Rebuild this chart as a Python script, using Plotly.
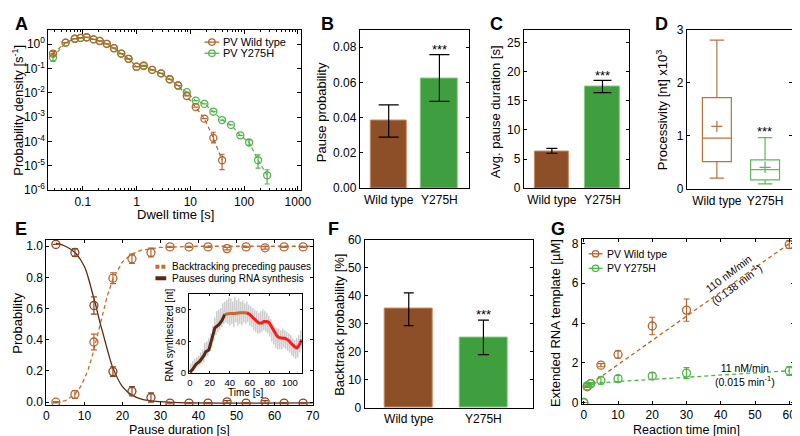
import plotly.graph_objects as go

W, H = 800, 436
def X(px): return px / W
def Y(py): return 1 - py / H

FONT = "Liberation Sans, Arial, Helvetica, sans-serif"

# ---------------- data ----------------
# A: dwell time distributions
A_x_wt = [0.028, 0.048, 0.071, 0.091, 0.118, 0.159, 0.207, 0.279, 0.38, 0.52, 0.71, 1.0, 1.36, 1.95,
          2.86, 4.13, 5.94, 8.6, 12.6, 18.3, 26.8, 39]
A_y_wt = [0.41, 1.15, 1.66, 1.8, 1.92, 1.56, 1.35, 1.03, 0.68, 0.41, 0.25, 0.118, 0.133, 0.087,
          0.063, 0.036, 0.02, 0.0074, 0.0026, 0.00087, 1.4e-4, 1.7e-5]
A_up_wt = [0.09] + [0] * 19 + [1.0e-4, 1.3e-5]
A_dn_wt = [0.06] + [0] * 19 + [5.3e-5, 1.0e-5]
A_x_mut = [0.028, 0.048, 0.071, 0.091, 0.118, 0.159, 0.207, 0.279, 0.38, 0.52, 0.71, 1.0, 1.36, 1.95,
           2.86, 4.13, 5.94, 8.6, 12.6, 18.3, 26.8, 39, 57, 85, 124, 182, 268]
A_y_mut = [0.28, 1.15, 1.66, 1.8, 1.92, 1.56, 1.35, 1.03, 0.68, 0.41, 0.25, 0.118, 0.125, 0.087,
           0.063, 0.036, 0.02, 0.0106, 0.0048, 0.0035, 0.0017, 7.6e-4, 4.8e-4, 1.8e-4, 9.1e-5, 1.7e-5, 4.1e-6]
A_up_mut = [0.13] + [0] * 23 + [2.5e-5, 1.1e-5, 2.8e-6]
A_dn_mut = [0.085] + [0] * 23 + [2.0e-5, 9e-6, 2.3e-6]

groups = ["Wild type", "Y275H"]
# B: pause probability
B_val = [0.0382, 0.0623]
B_hi = [0.0473, 0.0758]
B_lo = [0.029, 0.0493]
# C: average pause duration
C_val = [6.34, 17.4]
C_hi = [6.84, 18.5]
C_lo = [6.0, 16.4]
# D: processivity box plot (x10^3 nt)
D_low = [0.21, 0.10]
D_q1 = [0.52, 0.177]
D_med = [0.96, 0.37]
D_q3 = [1.72, 0.55]
D_high = [2.80, 0.97]
D_mean = [1.18, 0.41]
# E: probabilities vs pause duration
E_x = [2.5, 7.5, 12.5, 17.5, 22.5, 27.5, 32.5, 37.5, 42.5, 47.5, 52.5, 57.5, 62.5, 67.5]
E_syn = [1.012, 0.96, 0.62, 0.196, 0.07, 0.03, -0.006, -0.006, -0.006, 0.002, -0.006, 0.002, -0.006, -0.006]
E_syn_err = [0.0, 0.025, 0.055, 0.03, 0.03, 0.03, 0.004, 0.004, 0.004, 0.008, 0.004, 0.008, 0.004, 0.004]
E_bt = [0.0, 0.05, 0.386, 0.795, 0.92, 0.96, 0.996, 0.996, 0.996, 0.985, 0.996, 0.99, 0.996, 0.996]
E_bt_err = [0.004, 0.025, 0.05, 0.035, 0.03, 0.028, 0.004, 0.004, 0.004, 0.008, 0.004, 0.008, 0.004, 0.004]
E_fit_syn_x = [2.5, 5, 7.5, 10, 11, 12, 13, 14, 15, 16, 17.5, 20, 22.5, 25, 30, 35, 70]
E_fit_syn_y = [1.02, 1.0, 0.96, 0.87, 0.8, 0.71, 0.62, 0.52, 0.43, 0.34, 0.22, 0.1, 0.045, 0.02, 0.003, -0.003, -0.005]
E_fit_bt_x = [2.5, 5, 7.5, 9, 10, 11, 12, 13, 14, 15, 16, 17.5, 20, 22.5, 25, 30, 40, 70]
E_fit_bt_y = [0.0, 0.01, 0.05, 0.1, 0.15, 0.21, 0.29, 0.39, 0.49, 0.59, 0.68, 0.79, 0.9, 0.95, 0.975, 0.993, 1.0, 1.0]
# E inset: RNA synthesized trace
inset_t = list(range(0, 113))
inset_raw = [2, 12, 0, 15, 3, 18, 6, 20, 8, 22,
             10, 26, 12, 30, 14, 38, 20, 40, 22, 44,
             28, 50, 32, 60, 40, 70, 48, 78, 52, 80,
             55, 82, 58, 88, 62, 90, 64, 92, 62, 95,
             60, 94, 62, 90, 58, 96, 64, 92, 60, 94,
             62, 90, 60, 92, 64, 88, 62, 90, 64, 86,
             60, 84, 58, 82, 54, 80, 52, 78, 50, 76,
             50, 78, 52, 80, 54, 78, 52, 76, 50, 72,
             46, 68, 40, 62, 36, 58, 32, 56, 30, 56,
             30, 54, 30, 56, 32, 54, 30, 52, 28, 50,
             26, 48, 22, 44, 20, 42, 18, 44, 20, 48,
             26, 54, 30]
seg1_t = [0, 3, 6, 10, 14, 16, 19, 22, 25, 29, 32, 35]
seg1_y = [1, 5, 11, 15, 22, 27, 29, 42, 57, 61, 66, 74]
seg2_t = [35, 40, 45, 50, 55, 57]
seg2_y = [74, 75, 75, 76, 76, 76]
seg3_t = [57, 60, 63, 66, 69, 72, 74, 77, 79, 81, 83, 85, 87, 89, 91, 93, 95, 97, 99, 101, 103, 105, 107, 108, 110, 112]
seg3_y = [76, 74, 70, 66, 63, 63, 65, 65, 64, 60, 55, 50, 47, 45, 44, 44, 44, 43, 41, 38, 35, 33, 32, 33, 37, 42]
# F: backtrack probability
F_val = [35.3, 25.1]
F_hi = [41.0, 31.3]
F_lo = [29.3, 19.0]
# G: extended RNA template vs reaction time
G_t = [0, 1, 2, 5, 10, 20, 30, 60]
G_wt = [0.0, 0.79, 0.95, 1.88, 2.42, 3.85, 4.65, 7.95]
G_wt_err = [0, 0.03, 0.05, 0.08, 0.18, 0.44, 0.56, 0.2]
G_mut = [0.0, 0.84, 0.95, 1.11, 1.2, 1.33, 1.48, 1.59]
G_mut_err = [0, 0.03, 0.05, 0.18, 0.16, 0.17, 0.28, 0.22]
G_fit_t = [0.5, 60]
G_fit_wt = [0.75, 8.0]
G_fit_mut = [0.95, 1.6]

# ---------------- colours ----------------
BR = "#b5652d"
GR = "#4fb548"
BAR_BR = "#8c4f28"
BAR_BR_EDGE = "#c98a5e"
BAR_GR = "#3f9f3f"
BAR_GR_EDGE = "#86cc7e"
BOX_BR = "#b8733e"
BOX_GR = "#5cb85c"
DARK = "#5a2a10"
ORANGE = "#c8692e"
E_PT_SYN = "#8a4520"
E_PT_BT = "#b8642e"
RED = "#ff1a1a"

fig = go.Figure()

# ---------------- A ----------------
fig.add_trace(go.Scatter(x=A_x_mut, y=A_y_mut, mode="lines+markers", xaxis="x", yaxis="y",
                         line=dict(color=GR, width=1.2, dash="4px,3px"),
                         marker=dict(symbol="circle-open", size=7, color=GR, line=dict(width=1.3)),
                         error_y=dict(type="data", symmetric=False, array=A_up_mut, arrayminus=A_dn_mut,
                                      color=GR, thickness=1.2, width=2.5)))
fig.add_trace(go.Scatter(x=A_x_wt, y=A_y_wt, mode="lines+markers", xaxis="x", yaxis="y",
                         line=dict(color=BR, width=1.2, dash="4px,3px"),
                         marker=dict(symbol="circle-open", size=7, color=BR, line=dict(width=1.3)),
                         error_y=dict(type="data", symmetric=False, array=A_up_wt, arrayminus=A_dn_wt,
                                      color=BR, thickness=1.2, width=2.5)))

# ---------------- bar helper ----------------
def bars(xa, ya, vals, his, los, width, capw):
    cols = [(BAR_BR, BAR_BR_EDGE), (BAR_GR, BAR_GR_EDGE)]
    for i in range(2):
        fig.add_trace(go.Bar(x=[i], y=[vals[i]], width=width, xaxis=xa, yaxis=ya,
                             marker=dict(color=cols[i][0], line=dict(color=cols[i][1], width=1)),
                             error_y=dict(type="data", symmetric=False, array=[his[i] - vals[i]],
                                          arrayminus=[vals[i] - los[i]], color="black",
                                          thickness=1.2, width=capw[i])))

bars("x2", "y2", B_val, B_hi, B_lo, 0.72, [10, 10])
bars("x3", "y3", C_val, C_hi, C_lo, 0.69, [5.5, 9])
bars("x7", "y7", F_val, F_hi, F_lo, 0.64, [5, 5.5])

# ---------------- D ----------------
for i, c in enumerate([BOX_BR, BOX_GR]):
    fig.add_trace(go.Box(x=[i], q1=[D_q1[i]], median=[D_med[i]], q3=[D_q3[i]],
                         lowerfence=[D_low[i]], upperfence=[D_high[i]], width=0.6, whiskerwidth=0.5,
                         fillcolor="white", line=dict(color=c, width=1.2), boxpoints=False,
                         xaxis="x4", yaxis="y4"))
    fig.add_trace(go.Scatter(x=[i], y=[D_mean[i]], mode="markers", xaxis="x4", yaxis="y4",
                             marker=dict(symbol="cross-thin", size=8, color=c, line=dict(width=1.2, color=c))))

# ---------------- E ----------------
fig.add_trace(go.Scatter(x=E_fit_bt_x, y=E_fit_bt_y, mode="lines", xaxis="x5", yaxis="y5",
                         line=dict(color=ORANGE, width=1.3, dash="4px,3px")))
fig.add_trace(go.Scatter(x=E_fit_syn_x, y=E_fit_syn_y, mode="lines", xaxis="x5", yaxis="y5",
                         line=dict(color=DARK, width=1.3, shape="spline")))
fig.add_trace(go.Scatter(x=E_x, y=E_bt, mode="markers", xaxis="x5", yaxis="y5",
                         marker=dict(symbol="circle-open", size=8, color=E_PT_BT, line=dict(width=1.3)),
                         error_y=dict(type="data", array=E_bt_err, color=E_PT_BT, thickness=1.2, width=3)))
fig.add_trace(go.Scatter(x=E_x, y=E_syn, mode="markers", xaxis="x5", yaxis="y5",
                         marker=dict(symbol="circle-open", size=8, color=E_PT_SYN, line=dict(width=1.3)),
                         error_y=dict(type="data", array=E_syn_err, color=E_PT_SYN, thickness=1.2, width=3)))
# inset
fig.add_trace(go.Scatter(x=inset_t, y=inset_raw, mode="lines", xaxis="x6", yaxis="y6",
                         line=dict(color="rgba(170,170,170,0.5)", width=1)))
fig.add_trace(go.Scatter(x=seg1_t, y=seg1_y, mode="lines", xaxis="x6", yaxis="y6",
                         line=dict(color=DARK, width=3)))
fig.add_trace(go.Scatter(x=seg2_t, y=seg2_y, mode="lines", xaxis="x6", yaxis="y6",
                         line=dict(color=ORANGE, width=3)))
fig.add_trace(go.Scatter(x=seg3_t, y=seg3_y, mode="lines", xaxis="x6", yaxis="y6",
                         line=dict(color=RED, width=3)))

# ---------------- G ----------------
fig.add_trace(go.Scatter(x=G_fit_t, y=G_fit_wt, mode="lines", xaxis="x8", yaxis="y8",
                         line=dict(color=BR, width=1.3, dash="4px,3px")))
fig.add_trace(go.Scatter(x=G_fit_t, y=G_fit_mut, mode="lines", xaxis="x8", yaxis="y8",
                         line=dict(color=GR, width=1.3, dash="4px,3px")))
fig.add_trace(go.Scatter(x=G_t, y=G_wt, mode="markers", xaxis="x8", yaxis="y8",
                         marker=dict(symbol="circle-open", size=8, color=BR, line=dict(width=1.3)),
                         error_y=dict(type="data", array=G_wt_err, color=BR, thickness=1.2, width=3)))
fig.add_trace(go.Scatter(x=G_t, y=G_mut, mode="markers", xaxis="x8", yaxis="y8",
                         marker=dict(symbol="circle-open", size=8, color=GR, line=dict(width=1.3)),
                         error_y=dict(type="data", array=G_mut_err, color=GR, thickness=1.2, width=3)))

# ---------------- axes ----------------
def ax(dom, size=12, **kw):
    d = dict(domain=dom, showline=True, linecolor="black", linewidth=1, mirror="ticks",
             ticks="inside", ticklen=3, tickwidth=1, tickcolor="black", showgrid=False,
             zeroline=False, tickangle=0,
             tickfont=dict(family=FONT, size=size, color="black"), fixedrange=True)
    d.update(kw)
    return d

def catax(dom, rng):
    return ax(dom, range=rng, tickvals=[0, 1], ticktext=groups, ticks="", mirror=True)

minor_x = [m * 10 ** e for e in range(-2, 3) for m in range(2, 10) if 0.023 <= m * 10 ** e <= 1130]
top_y = [Y(179), Y(15)]
layout_axes = dict(
    xaxis=ax([X(38), X(295)], type="log", range=[-1.64, 3.055], anchor="y",
             tickvals=[0.1, 1, 10, 100, 1000], ticktext=["0.1", "1", "10", "100", "1000"], ticklen=4,
             minor=dict(ticks="inside", ticklen=2, tickcolor="black", tickvals=minor_x)),
    yaxis=ax([Y(181), Y(15)], type="log", range=[-6, 0.6], anchor="x", ticklen=4,
             tickvals=[1e-6, 1e-5, 1e-4, 1e-3, 1e-2, 1e-1, 1],
             ticktext=["10<sup>-6</sup>", "10<sup>-5</sup>", "10<sup>-4</sup>", "10<sup>-3</sup>",
                       "10<sup>-2</sup>", "10<sup>-1</sup>", "10<sup>0</sup>"]),
    xaxis2=dict(catax([X(355), X(466)], [-0.57, 1.58]), anchor="y2"),
    yaxis2=ax(top_y, range=[0, 0.09], tickvals=[0, 0.02, 0.04, 0.06, 0.08], tickformat=".2f", anchor="x2"),
    xaxis3=dict(catax([X(522), X(629)], [-0.553, 1.524]), anchor="y3"),
    yaxis3=ax(top_y, range=[0, 27.2], tickvals=[0, 5, 10, 15, 20, 25], anchor="x3"),
    xaxis4=dict(catax([X(688), X(795)], [-0.62, 1.56]), anchor="y4"),
    yaxis4=ax([Y(180), Y(15)], range=[0, 3.0], tickvals=[0, 1, 2, 3], anchor="x4"),
    xaxis5=ax([X(36), X(307)], range=[0, 70], tickvals=list(range(0, 71, 10)), anchor="y5"),
    yaxis5=ax([Y(403), Y(232)], range=[-0.0185, 1.043], tickvals=[0, 0.2, 0.4, 0.6, 0.8, 1.0],
              tickformat=".1f", anchor="x5"),
    xaxis6=ax([X(181), X(296)], size=9.5, range=[-1, 112], tickvals=[0, 20, 40, 60, 80, 100], anchor="y6",
              ticklen=2),
    yaxis6=ax([Y(370), Y(288)], size=9.5, range=[0, 100], tickvals=[0, 40, 80], anchor="x6", ticklen=2),
    xaxis7=dict(catax([X(360), X(531)], [-0.59, 1.66]), anchor="y7"),
    yaxis7=ax([Y(406), Y(232)], range=[0, 60], tickvals=list(range(0, 61, 10)), anchor="x7"),
    xaxis8=ax([X(581), X(797)], range=[-0.57, 61.4], tickvals=list(range(0, 61, 10)), anchor="y8"),
    yaxis8=ax([Y(402), Y(231)], range=[-0.08, 8.25], tickvals=[0, 2, 4, 6, 8], anchor="x8"),
)

# ---------------- annotations ----------------
ann = []
def txt(x, y, t, size=13, angle=0, xanchor="center", bold=False, color="black"):
    ann.append(dict(x=X(x), y=Y(y), xref="paper", yref="paper", text=("<b>%s</b>" % t) if bold else t,
                    showarrow=False, textangle=angle, xanchor=xanchor, yanchor="middle",
                    font=dict(family=FONT, size=size, color=color)))

for lab, x, y in [("A", 2, 9), ("B", 313, 9), ("C", 485, 9), ("D", 653, 9),
                  ("E", 2, 221), ("F", 321, 221), ("G", 548, 221)]:
    txt(x, y, lab, size=18, xanchor="left", bold=True)

txt(7, 98, "Probability density [s<sup>-1</sup>]", angle=-90)
txt(167, 206.5, "Dwell time [s]")
txt(316, 100, "Pause probability", angle=-90)
txt(493, 100, "Avg. pause duration [s]", angle=-90)
txt(662, 98, "Processivity [nt] x10<sup>3</sup>", angle=-90)
txt(7, 318, "Probability", angle=-90)
txt(172, 428.3, "Pause duration [s]", size=12.5)
txt(161, 331, "RNA synthesized [nt]", size=10, angle=-90)
txt(239, 390, "Time [s]", size=10)
txt(335, 320, "Backtrack probability [%]", angle=-90)
txt(555, 318, "Extended RNA template [µM]", angle=-90)
txt(688, 428.3, "Reaction time [min]", size=12.5)

for x, y in [(436, 35.5), (602, 63), (767, 120.5), (481, 309)]:
    txt(x, y, "***", size=13)

txt(735, 273, "110 nM/min<br>(0.138 min<sup>-1</sup>)", size=10.5, angle=-37)
txt(747, 372, "11 nM/min<br>(0.015 min<sup>-1</sup>)", size=10.5)

# legends (drawn manually)
shapes = []
def leg_line(x0, x1, y, color, width=1.3, dash="solid"):
    shapes.append(dict(type="line", xref="paper", yref="paper", x0=X(x0), x1=X(x1), y0=Y(y), y1=Y(y),
                       line=dict(color=color, width=width, dash=dash)))
def leg_circle(cx, cy, r, color):
    shapes.append(dict(type="circle", xref="paper", yref="paper", x0=X(cx - r), x1=X(cx + r),
                       y0=Y(cy + r), y1=Y(cy - r), line=dict(color=color, width=1.3)))

for (yy, col, lab) in [(28, BR, "PV Wild type"), (39.5, GR, "PV Y275H")]:
    leg_line(197, 212, yy, col)
    leg_circle(204.5, yy, 3.3, col)
    txt(214, yy, lab, size=11, xanchor="left")

for (yy, col, lab) in [(246.7, BR, "PV Wild type"), (261.7, GR, "PV Y275H")]:
    leg_line(588, 602, yy, col)
    leg_circle(595, yy, 3.3, col)
    txt(605, yy, lab, size=10.5, xanchor="left")

leg_line(147, 158, 260, ORANGE, width=4, dash="4px,2px")
txt(161.5, 260, "Backtracking preceding pauses", size=10, xanchor="left")
leg_line(147, 158, 272, DARK, width=4)
txt(161.5, 272, "Pauses during RNA synthesis", size=10, xanchor="left")

fig.update_layout(width=W, height=H, margin=dict(l=0, r=0, t=0, b=0), showlegend=False,
                  plot_bgcolor="white", paper_bgcolor="white", bargap=0,
                  font=dict(family=FONT, color="black"), annotations=ann, shapes=shapes,
                  **layout_axes)

fig.write_html("out.html")
